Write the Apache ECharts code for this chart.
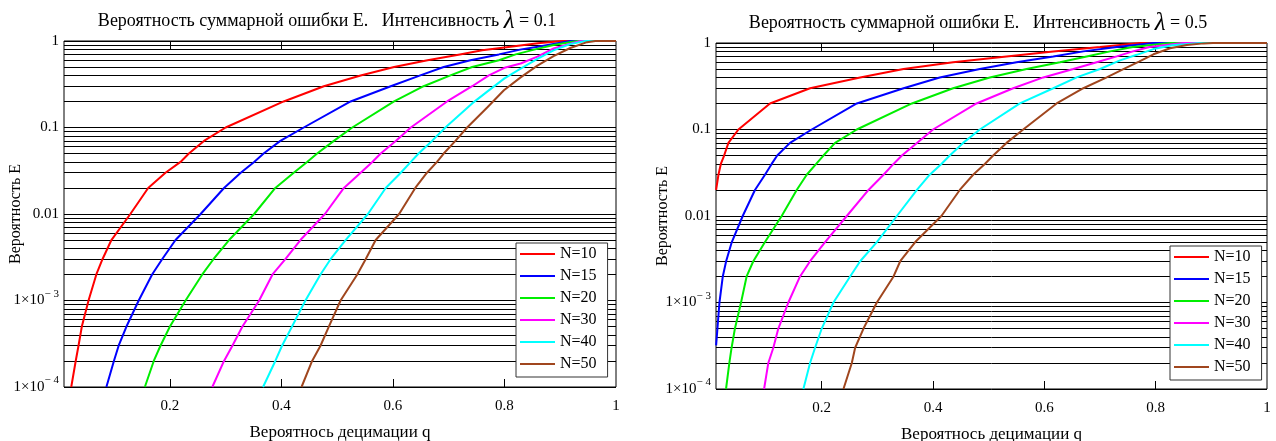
<!DOCTYPE html>
<html>
<head>
<meta charset="utf-8">
<title>ECharts</title>
<script src="https://cdn.jsdelivr.net/npm/echarts@6/dist/echarts.min.js"></script>
</head>
<body style="margin:0">
<div id="main" style="width:1276px;height:441px;"></div>
<script>
// серии: N
var names = ['N=10', 'N=15', 'N=20', 'N=30', 'N=40', 'N=50'];
var colors = ['#ff0000', '#0000ff', '#00ee00', '#ff00ff', '#00ffff', '#a0461e'];

// lambda = 0.1 : [q, E]
var l1_n10 = [[0.023,1e-4],[0.031,2e-4],[0.036,3e-4],[0.042,5e-4],[0.054,1e-3],[0.068,2e-3],[0.079,3e-3],[0.095,5e-3],[0.129,0.01],[0.161,0.02],[0.192,0.03],[0.219,0.04],[0.234,0.05],[0.261,0.07],[0.300,0.1],[0.404,0.2],[0.476,0.3],[0.542,0.4],[0.602,0.5],[0.662,0.6],[0.72,0.7],[0.76,0.78],[0.80,0.84],[0.86,0.94],[0.904,1],[1,1]];
var l1_n15 = [[0.086,1e-4],[0.0995,2e-4],[0.108,3e-4],[0.122,5e-4],[0.144,1e-3],[0.168,2e-3],[0.186,3e-3],[0.210,5e-3],[0.255,0.01],[0.297,0.02],[0.327,0.03],[0.351,0.04],[0.368,0.05],[0.398,0.07],[0.440,0.1],[0.524,0.2],[0.596,0.3],[0.649,0.4],[0.691,0.5],[0.739,0.6],[0.79,0.7],[0.83,0.8],[0.86,0.86],[0.918,1],[1,1]];
var l1_n20 = [[0.155,1e-4],[0.171,2e-4],[0.183,3e-4],[0.200,5e-4],[0.228,1e-3],[0.258,2e-3],[0.278,3e-3],[0.306,5e-3],[0.351,0.01],[0.389,0.02],[0.422,0.03],[0.446,0.04],[0.464,0.05],[0.494,0.07],[0.527,0.1],[0.602,0.2],[0.655,0.3],[0.703,0.4],[0.742,0.5],[0.79,0.6],[0.82,0.7],[0.855,0.8],[0.888,0.9],[0.93,1],[1,1]];
var l1_n30 = [[0.276,1e-4],[0.297,2e-4],[0.312,3e-4],[0.330,5e-4],[0.360,1e-3],[0.384,2e-3],[0.407,3e-3],[0.434,5e-3],[0.478,0.01],[0.512,0.02],[0.542,0.03],[0.563,0.04],[0.578,0.05],[0.605,0.07],[0.632,0.1],[0.697,0.2],[0.742,0.3],[0.772,0.4],[0.80,0.49],[0.829,0.55],[0.859,0.66],[0.888,0.82],[0.936,1],[1,1]];
var l1_n40 = [[0.367,1e-4],[0.389,2e-4],[0.401,3e-4],[0.419,5e-4],[0.443,1e-3],[0.470,2e-3],[0.488,3e-3],[0.515,5e-3],[0.555,0.01],[0.587,0.02],[0.614,0.03],[0.632,0.04],[0.646,0.05],[0.670,0.07],[0.694,0.1],[0.742,0.19],[0.769,0.26],[0.80,0.37],[0.829,0.48],[0.859,0.62],[0.888,0.78],[0.918,0.92],[0.945,1],[1,1]];
var l1_n50 = [[0.436,1e-4],[0.455,2e-4],[0.470,3e-4],[0.485,5e-4],[0.506,1e-3],[0.536,2e-3],[0.551,3e-3],[0.569,5e-3],[0.611,0.01],[0.640,0.02],[0.661,0.03],[0.679,0.04],[0.691,0.05],[0.712,0.07],[0.733,0.1],[0.769,0.17],[0.799,0.27],[0.829,0.38],[0.859,0.52],[0.888,0.67],[0.918,0.83],[0.948,0.97],[0.963,1],[1,1]];

// lambda = 0.5 : [q, E]
var l5_n10 = [[0.0102,0.02],[0.0144,0.03],[0.0187,0.04],[0.0246,0.05],[0.0323,0.07],[0.0503,0.1],[0.107,0.2],[0.179,0.3],[0.269,0.4],[0.347,0.5],[0.436,0.6],[0.532,0.7],[0.616,0.8],[0.700,0.9],[0.772,1],[1,1]];
var l5_n15 = [[0.0102,3.2e-4],[0.0126,5e-4],[0.0162,1e-3],[0.0222,2e-3],[0.0282,3e-3],[0.0384,5e-3],[0.058,0.01],[0.080,0.02],[0.098,0.03],[0.110,0.04],[0.120,0.05],[0.143,0.07],[0.182,0.1],[0.263,0.2],[0.347,0.3],[0.412,0.4],[0.484,0.5],[0.550,0.6],[0.616,0.7],[0.670,0.8],[0.730,0.9],[0.796,1],[1,1]];
var l5_n20 = [[0.028,1e-4],[0.034,2e-4],[0.038,3e-4],[0.044,5e-4],[0.055,1e-3],[0.065,2e-3],[0.077,3e-3],[0.098,5e-3],[0.128,0.01],[0.155,0.02],[0.173,0.03],[0.190,0.04],[0.203,0.05],[0.224,0.07],[0.263,0.1],[0.362,0.2],[0.436,0.3],[0.502,0.4],[0.568,0.5],[0.628,0.6],[0.676,0.7],[0.718,0.8],[0.759,0.9],[0.826,1],[1,1]];
var l5_n30 = [[0.0964,1e-4],[0.104,2e-4],[0.113,3e-4],[0.122,5e-4],[0.140,1e-3],[0.161,2e-3],[0.179,3e-3],[0.206,5e-3],[0.245,0.01],[0.284,0.02],[0.311,0.03],[0.329,0.04],[0.344,0.05],[0.371,0.07],[0.400,0.1],[0.478,0.2],[0.544,0.3],[0.598,0.4],[0.652,0.5],[0.694,0.6],[0.730,0.7],[0.759,0.8],[0.789,0.9],[0.849,1],[1,1]];
var l5_n40 = [[0.167,1e-4],[0.179,2e-4],[0.188,3e-4],[0.200,5e-4],[0.221,1e-3],[0.251,2e-3],[0.269,3e-3],[0.299,5e-3],[0.335,0.01],[0.371,0.02],[0.394,0.03],[0.415,0.04],[0.430,0.05],[0.454,0.07],[0.484,0.1],[0.556,0.2],[0.616,0.3],[0.658,0.4],[0.700,0.5],[0.736,0.63],[0.766,0.73],[0.796,0.85],[0.83,0.94],[0.88,1],[1,1]];
var l5_n50 = [[0.239,1e-4],[0.254,2e-4],[0.260,3e-4],[0.275,5e-4],[0.299,1e-3],[0.329,2e-3],[0.341,3e-3],[0.368,5e-3],[0.415,0.01],[0.448,0.02],[0.472,0.03],[0.493,0.04],[0.508,0.05],[0.532,0.07],[0.562,0.1],[0.622,0.2],[0.670,0.3],[0.712,0.4],[0.742,0.5],[0.77,0.61],[0.796,0.74],[0.826,0.87],[0.856,0.95],[0.886,0.99],[0.903,1],[1,1]];

var left = [l1_n10, l1_n15, l1_n20, l1_n30, l1_n40, l1_n50];
var right = [l5_n10, l5_n15, l5_n20, l5_n30, l5_n40, l5_n50];

var xLabels = [0.2, 0.4, 0.6, 0.8, 1];
var xTicks = [0.2, 0.4, 0.6, 0.8];
var titleStart = 'Вероятность суммарной ошибки E.   Интенсивность ';
var lambdas = ['0.1', '0.5'];

var FONT = 'Liberation Serif';

// горизонтальные линии сетки 2..9 * 10^k
var gridVals = [];
for (var d = -4; d < 0; d++) {
    for (var k = 1; k <= 9; k++) {
        if (d === -4 && k === 1) continue;
        gridVals.push(k * Math.pow(10, d));
    }
}

function yFmt(v) {
    var e = Math.round(Math.log10(v));
    if (e >= -2) return ['1', '0.1', '0.01'][-e];
    return '{a|1×10}{s|− ' + (-e) + '}';
}

function makeX(g, isTop) {
    var ax = {
        gridIndex: g, type: 'value', min: 0.01, max: 1,
        position: isTop ? 'top' : 'bottom',
        axisLine: {show: false},
        axisTick: {show: true, inside: true, length: 8, customValues: xTicks, lineStyle: {color: '#000'}},
        splitLine: {show: false},
        axisLabel: {show: !isTop, customValues: xLabels, margin: 12, color: '#000', fontFamily: FONT, fontSize: 15}
    };
    if (!isTop) {
        ax.name = 'Вероятнось децимации q';
        ax.nameLocation = 'middle';
        ax.nameGap = 37;
        ax.nameMoveOverlap = false;
        ax.nameTextStyle = {color: '#000', fontFamily: FONT, fontSize: 17};
    }
    return ax;
}

function makeY(g, gap) {
    return {
        gridIndex: g, type: 'log', logBase: 10, min: 1e-4, max: 1,
        axisLine: {show: false},
        axisTick: {show: false},
        splitLine: {show: true, lineStyle: {color: '#000', width: 1}},
        axisLabel: {
            margin: 5, color: '#000', fontFamily: FONT, fontSize: 15,
            formatter: yFmt,
            rich: {
                a: {fontFamily: FONT, fontSize: 15, color: '#000'},
                s: {fontFamily: FONT, fontSize: 11, color: '#000', padding: [0, 0, 13, 0]}
            }
        },
        name: 'Вероятность E',
        nameLocation: 'middle',
        nameGap: gap,
        nameMoveOverlap: false,
        nameTextStyle: {color: '#000', fontFamily: FONT, fontSize: 16}
    };
}

var series = [];
[left, right].forEach(function (sets, g) {
    series.push({
        type: 'line', xAxisIndex: g * 2, yAxisIndex: g, data: [], z: 1, silent: true,
        markLine: {
            silent: true, symbol: 'none', precision: 8, z: 1, label: {show: false},
            lineStyle: {color: '#000', width: 1, type: 'solid'},
            data: gridVals.map(function (v) { return {yAxis: v}; })
        }
    });
    sets.forEach(function (d, i) {
        series.push({
            name: names[i], type: 'line', xAxisIndex: g * 2, yAxisIndex: g,
            data: d, showSymbol: false, symbol: 'none', z: 3,
            color: colors[i], lineStyle: {width: 2, color: colors[i]}
        });
    });
});

function makeLegend(x, y) {
    return {
        left: x, top: y, orient: 'vertical', data: names, icon: 'rect', z: 10,
        itemWidth: 35, itemHeight: 2, itemGap: 6, padding: [3, 11, 5, 4],
        backgroundColor: '#fff', borderColor: '#333', borderWidth: 1,
        selectedMode: false,
        textStyle: {color: '#000', fontFamily: FONT, fontSize: 16, lineHeight: 16}
    };
}

function makeTitle(x, y, lam) {
    return {
        type: 'text', x: x, y: y,
        style: {
            text: '{t|' + titleStart + '}{l|λ}{t| = ' + lam + '}',
            align: 'center', verticalAlign: 'middle',
            rich: {
                t: {fontFamily: FONT, fontSize: 18, fill: '#000'},
                l: {fontFamily: FONT, fontSize: 25, fontStyle: 'italic', fill: '#000'}
            }
        }
    };
}

var myChart = echarts.init(document.getElementById('main'));
myChart.setOption({
    animation: false,
    backgroundColor: '#fff',
    grid: [
        {left: 64, top: 41, width: 552, height: 346, outerBoundsMode: 'none', show: true, borderColor: '#000', borderWidth: 1, backgroundColor: '#fff'},
        {left: 716, top: 43, width: 551, height: 346, outerBoundsMode: 'none', show: true, borderColor: '#000', borderWidth: 1, backgroundColor: '#fff'}
    ],
    xAxis: [makeX(0, false), makeX(0, true), makeX(1, false), makeX(1, true)],
    yAxis: [makeY(0, 40), makeY(1, 45)],
    legend: [makeLegend(516, 243), makeLegend(1170, 246)],
    graphic: [makeTitle(327, 21, lambdas[0]), makeTitle(978, 23, lambdas[1])],
    series: series
});
</script>
</body>
</html>
